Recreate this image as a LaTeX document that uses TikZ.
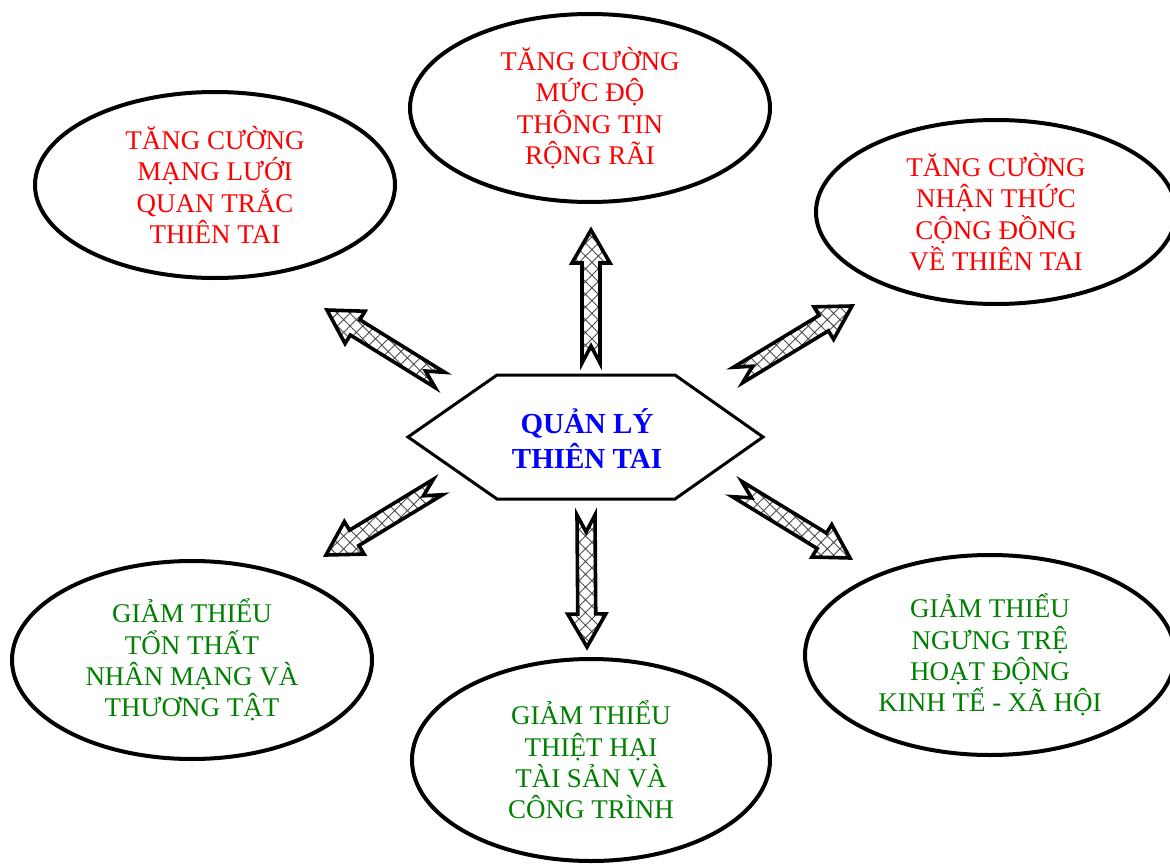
\documentclass[tikz,border=0pt]{standalone}
\usepackage{fontspec}
\setmainfont{Liberation Serif}
\usetikzlibrary{calc,shapes.geometric,patterns.meta}

\definecolor{tangred}{RGB}{255,0,0}
\definecolor{giamgreen}{RGB}{0,128,0}
\definecolor{coreblue}{RGB}{0,0,255}

\tikzset{
  bubble/.style={ellipse, draw=black, line width=4pt, inner sep=0pt, align=center,
    font=\fontsize{27}{31.3}\selectfont},
  corebox/.style={draw, line width=3pt, line join=miter},
  hatcharrow/.style={draw, line width=3.6pt, line join=miter,
    pattern={Hatch[angle=45,distance=9pt,line width=0.9pt]}, pattern color=black!70}
}

% notched arrow from tail #1 to tip #2
\newcommand{\hatcharrowdraw}[2]{%
  \path let \p1 = ($(#2)-(#1)$) in
    \pgfextra{\pgfmathsetmacro{\arang}{atan2(\y1,\x1)}%
      \pgfmathsetmacro{\arlen}{veclen(\x1,\y1)}%
      \pgfmathsetmacro{\arneck}{\arlen-33}%
      \xdef\arang{\arang}\xdef\arlen{\arlen}\xdef\arneck{\arneck}};
  \draw[hatcharrow, shift={(#1)}, rotate=\arang]
    (0pt,9pt) -- (\arneck pt,9pt) -- (\arneck pt,19pt) -- (\arlen pt,0pt)
    -- (\arneck pt,-19pt) -- (\arneck pt,-9pt) -- (0pt,-9pt) -- (17pt,0pt) -- cycle;
}

\begin{document}
\begin{tikzpicture}[x=1pt, y=-1pt]
    \useasboundingbox (0,0) rectangle (1170,867);
    \clip (0,0) rectangle (1170,867);

    % hexagon corners
    \coordinate (h1) at (408,437);
    \coordinate (h2) at (497,375);
    \coordinate (h3) at (675,375);
    \coordinate (h4) at (763,437);
    \coordinate (h5) at (675,499);
    \coordinate (h6) at (497,499);

    % arrow tails and tips
    \coordinate (t1) at (440,380); \coordinate (p1) at (327,310);
    \coordinate (t2) at (591,363); \coordinate (p2) at (591,230);
    \coordinate (t3) at (738,375); \coordinate (p3) at (852,306);
    \coordinate (t4) at (438,487); \coordinate (p4) at (326,555);
    \coordinate (t5) at (586,515); \coordinate (p5) at (587,647);
    \coordinate (t6) at (737,489); \coordinate (p6) at (850,558);

    \draw[corebox] (h1) -- (h2) -- (h3) -- (h4) -- (h5) -- (h6) -- cycle;
    \node[text=coreblue, align=center, font=\bfseries\fontsize{29}{35}\selectfont]
      (core) at (587,439) {QUẢN LÝ\\THIÊN TAI};

    \node[bubble, text=tangred, minimum width=360pt, minimum height=186pt]
      (monitor) at (215,185) {TĂNG CƯỜNG\\MẠNG LƯỚI\\QUAN TRẮC\\THIÊN TAI};
    \node[bubble, text=tangred, minimum width=360pt, minimum height=188pt]
      (inform) at (590,108) {TĂNG CƯỜNG\\MỨC ĐỘ\\THÔNG TIN\\RỘNG RÃI};
    \node[bubble, text=tangred, minimum width=360pt, minimum height=184pt]
      (aware) at (996,212) {TĂNG CƯỜNG\\NHẬN THỨC\\CỘNG ĐỒNG\\VỀ THIÊN TAI};
    \node[bubble, text=giamgreen, minimum width=360pt, minimum height=198pt]
      (life) at (192,660) {GIẢM THIỂU\\TỔN THẤT\\NHÂN MẠNG VÀ\\THƯƠNG TẬT};
    \node[bubble, text=giamgreen, minimum width=358pt, minimum height=202pt]
      (asset) at (591,760) {GIẢM THIỂU\\THIỆT HẠI\\TÀI SẢN VÀ\\CÔNG TRÌNH};
    \node[bubble, text=giamgreen, minimum width=370pt, minimum height=200pt]
      (economy) at (990,655) {GIẢM THIỂU\\NGƯNG TRỆ\\HOẠT ĐỘNG\\KINH TẾ - XÃ HỘI};

    \hatcharrowdraw{t1}{p1}
    \hatcharrowdraw{t2}{p2}
    \hatcharrowdraw{t3}{p3}
    \hatcharrowdraw{t4}{p4}
    \hatcharrowdraw{t5}{p5}
    \hatcharrowdraw{t6}{p6}
\end{tikzpicture}
\end{document}
